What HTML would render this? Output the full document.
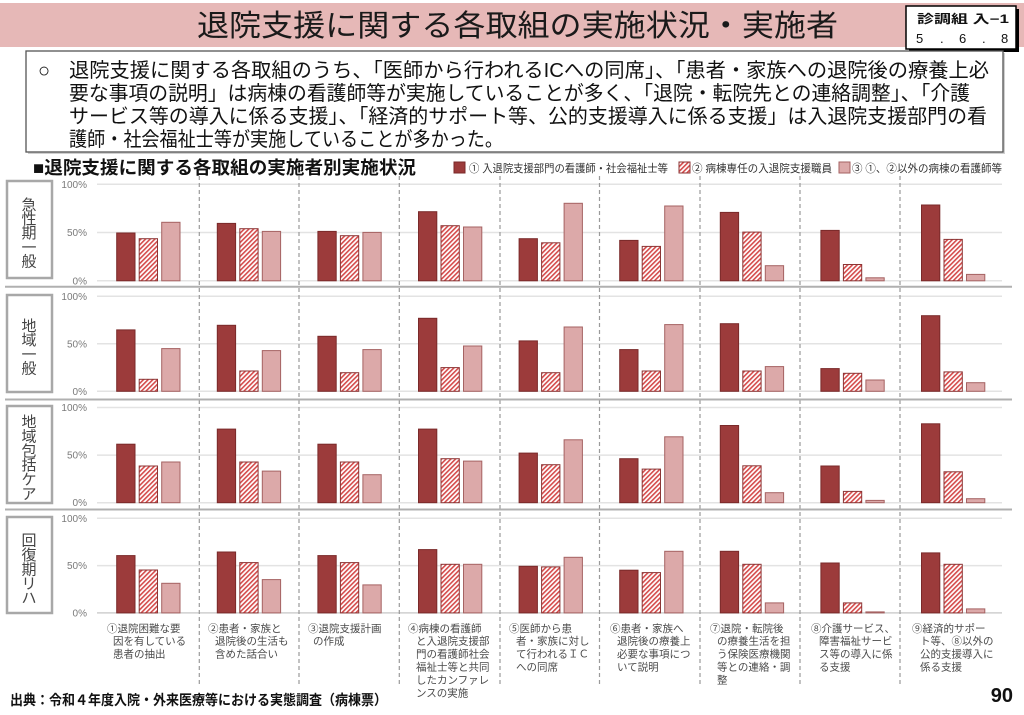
<!DOCTYPE html>
<html><head><meta charset="utf-8">
<style>
html,body{margin:0;padding:0;background:#fff;}
svg{display:block;}
text{font-family:"Liberation Sans","Noto Sans CJK JP",sans-serif;}
.a{fill:#9c3b3b;stroke:#7a2a2a;stroke-width:1;}
.b{fill:url(#h);stroke:#8c3535;stroke-width:1;}
.c{fill:#dca9a9;stroke:#a56262;stroke-width:1;}
.g{stroke:#e3e3e3;stroke-width:1.5;}
.yl{font-size:10px;fill:#7a7a7a;text-anchor:end;}
.cl{font-size:10.5px;fill:#4a4a4a;}
.rl{font-size:15px;fill:#444;text-anchor:middle;}
</style></head>
<body>
<svg width="1024" height="715" viewBox="0 0 1024 715" xmlns="http://www.w3.org/2000/svg">
<defs>
<pattern id="h" patternUnits="userSpaceOnUse" width="3.3" height="3.3" patternTransform="rotate(45)">
<rect width="3.3" height="3.3" fill="#fff"/><rect width="1.6" height="3.3" fill="#d44a4a"/>
</pattern>
</defs>
<rect x="0" y="0" width="1024" height="715" fill="#fff"/>
<!-- title band -->
<rect x="0" y="3" width="1024" height="44" fill="#e6b8b7"/>
<text x="197" y="36" font-size="30" fill="#1a1a1a" textLength="641" lengthAdjust="spacingAndGlyphs">退院支援に関する各取組の実施状況・実施者</text>
<!-- top right box -->
<rect x="909" y="9" width="110" height="43" fill="#000"/>
<rect x="906" y="6" width="110" height="43" fill="#fff" stroke="#000" stroke-width="1.5"/>
<text x="917" y="23" font-size="12" font-weight="bold" fill="#111" textLength="92" lengthAdjust="spacingAndGlyphs">診調組 入−1</text>
<text y="43" font-size="13" fill="#111"><tspan x="916">5</tspan><tspan x="940">.</tspan><tspan x="959">6</tspan><tspan x="982">.</tspan><tspan x="1001">8</tspan></text>
<!-- text box -->
<rect x="28" y="53" width="977" height="101" fill="#cfcfcf"/>
<rect x="26" y="51" width="977" height="101" fill="#fff" stroke="#555" stroke-width="1.3"/>
<text x="38" y="77" font-size="20" fill="#111">○</text>
<text x="69" y="77" font-size="20" fill="#111" textLength="920" lengthAdjust="spacingAndGlyphs">退院支援に関する各取組のうち、「医師から行われるICへの同席」、「患者・家族への退院後の療養上必</text>
<text x="69" y="100" font-size="20" fill="#111" textLength="901" lengthAdjust="spacingAndGlyphs">要な事項の説明」は病棟の看護師等が実施していることが多く、「退院・転院先との連絡調整」、「介護</text>
<text x="69" y="123" font-size="20" fill="#111" textLength="918" lengthAdjust="spacingAndGlyphs">サービス等の導入に係る支援」、「経済的サポート等、公的支援導入に係る支援」は入退院支援部門の看</text>
<text x="69" y="146" font-size="20" fill="#111" textLength="434" lengthAdjust="spacingAndGlyphs">護師・社会福祉士等が実施していることが多かった。</text>
<!-- subtitle & legend -->
<text x="33" y="174" font-size="18" font-weight="bold" fill="#111" textLength="383" lengthAdjust="spacingAndGlyphs">■退院支援に関する各取組の実施者別実施状況</text>
<rect x="454" y="162" width="11" height="11" class="a"/>
<text x="469" y="172" font-size="11" fill="#333" textLength="199" lengthAdjust="spacingAndGlyphs">① 入退院支援部門の看護師・社会福祉士等</text>
<rect x="679" y="162" width="11" height="11" class="b"/>
<text x="692" y="172" font-size="11" fill="#333" textLength="140" lengthAdjust="spacingAndGlyphs">② 病棟専任の入退院支援職員</text>
<rect x="839" y="162" width="11" height="11" class="c"/>
<text x="852" y="172" font-size="11" fill="#333" textLength="150" lengthAdjust="spacingAndGlyphs">③ ①、②以外の病棟の看護師等</text>

<!-- gridlines -->
<g class="g">
<line x1="97" x2="1002" y1="184.3" y2="184.3"/><line x1="97" x2="1002" y1="232.5" y2="232.5"/><line x1="97" x2="1002" y1="280.8" y2="280.8"/>
<line x1="97" x2="1002" y1="296.3" y2="296.3"/><line x1="97" x2="1002" y1="343.8" y2="343.8"/><line x1="97" x2="1002" y1="391.3" y2="391.3"/>
<line x1="97" x2="1002" y1="407.5" y2="407.5"/><line x1="97" x2="1002" y1="455.1" y2="455.1"/><line x1="97" x2="1002" y1="502.7" y2="502.7"/>
<line x1="97" x2="1002" y1="518.3" y2="518.3"/><line x1="97" x2="1002" y1="565.6" y2="565.6"/><line x1="97" x2="1002" y1="612.9" y2="612.9" style="stroke:#cfcfcf"/>
</g>
<!-- y labels -->
<text class="yl" x="87" y="187.8">100%</text><text class="yl" x="87" y="236">50%</text><text class="yl" x="87" y="284.3">0%</text>
<text class="yl" x="87" y="299.8">100%</text><text class="yl" x="87" y="347.3">50%</text><text class="yl" x="87" y="394.8">0%</text>
<text class="yl" x="87" y="411">100%</text><text class="yl" x="87" y="458.6">50%</text><text class="yl" x="87" y="506.2">0%</text>
<text class="yl" x="87" y="521.8">100%</text><text class="yl" x="87" y="569.1">50%</text><text class="yl" x="87" y="616.4">0%</text>

<!-- dashed separators -->
<g stroke="#9a9a9a" stroke-width="1.2" stroke-dasharray="4,3">
<line x1="199.3" x2="199.3" y1="176" y2="686"/><line x1="299" x2="299" y1="176" y2="686"/>
<line x1="399.3" x2="399.3" y1="176" y2="686"/><line x1="500" x2="500" y1="176" y2="686"/>
<line x1="599.5" x2="599.5" y1="176" y2="686"/><line x1="700" x2="700" y1="176" y2="686"/>
<line x1="800" x2="800" y1="176" y2="686"/><line x1="900" x2="900" y1="176" y2="686"/>
</g>
<!-- row separators -->
<g stroke="#b0b0b0" stroke-width="2">
<line x1="5" x2="1012" y1="286.7" y2="286.7"/>
<line x1="5" x2="1012" y1="399.5" y2="399.5"/>
<line x1="5" x2="1012" y1="509.5" y2="509.5"/>
</g>

<!-- row labels -->
<rect x="7" y="181" width="45" height="97" fill="#fff" stroke="#a8a8a8" stroke-width="2.5"/>
<rect x="7" y="295" width="45" height="97" fill="#fff" stroke="#a8a8a8" stroke-width="2.5"/>
<rect x="7" y="406" width="45" height="97" fill="#fff" stroke="#a8a8a8" stroke-width="2.5"/>
<rect x="7" y="517" width="45" height="96" fill="#fff" stroke="#a8a8a8" stroke-width="2.5"/>
<text class="rl"><tspan x="29" y="209.8">急</tspan><tspan x="29" dy="14.2">性</tspan><tspan x="29" dy="14.2">期</tspan><tspan x="29" dy="14.2">一</tspan><tspan x="29" dy="14.2">般</tspan></text>
<text class="rl"><tspan x="29" y="331">地</tspan><tspan x="29" dy="14.2">域</tspan><tspan x="29" dy="14.2">一</tspan><tspan x="29" dy="14.2">般</tspan></text>
<text class="rl"><tspan x="29" y="427">地</tspan><tspan x="29" dy="14.4">域</tspan><tspan x="29" dy="14.4">包</tspan><tspan x="29" dy="14.4">括</tspan><tspan x="29" dy="14.4">ケ</tspan><tspan x="29" dy="14.4">ア</tspan></text>
<text class="rl"><tspan x="29" y="545.5">回</tspan><tspan x="29" dy="14.4">復</tspan><tspan x="29" dy="14.4">期</tspan><tspan x="29" dy="14.4">リ</tspan><tspan x="29" dy="14.4">ハ</tspan></text>

<!-- Row 1 bars -->
<g transform="translate(0,280.8)">
<rect class="a" x="116.7" y="-47.8" width="18.3" height="47.8"/><rect class="b" x="139.2" y="-42.1" width="18.3" height="42.1"/><rect class="c" x="161.7" y="-58.5" width="18.3" height="58.5"/>
<rect class="a" x="217.3" y="-57.4" width="18.3" height="57.4"/><rect class="b" x="239.8" y="-52.1" width="18.3" height="52.1"/><rect class="c" x="262.3" y="-49.4" width="18.3" height="49.4"/>
<rect class="a" x="317.9" y="-49.4" width="18.3" height="49.4"/><rect class="b" x="340.4" y="-45.1" width="18.3" height="45.1"/><rect class="c" x="362.9" y="-48.4" width="18.3" height="48.4"/>
<rect class="a" x="418.5" y="-69.1" width="18.3" height="69.1"/><rect class="b" x="441.0" y="-55.1" width="18.3" height="55.1"/><rect class="c" x="463.5" y="-53.8" width="18.3" height="53.8"/>
<rect class="a" x="519.1" y="-42.1" width="18.3" height="42.1"/><rect class="b" x="541.6" y="-38.0" width="18.3" height="38.0"/><rect class="c" x="564.1" y="-77.5" width="18.3" height="77.5"/>
<rect class="a" x="619.7" y="-40.4" width="18.3" height="40.4"/><rect class="b" x="642.2" y="-34.4" width="18.3" height="34.4"/><rect class="c" x="664.7" y="-74.8" width="18.3" height="74.8"/>
<rect class="a" x="720.3" y="-68.4" width="18.3" height="68.4"/><rect class="b" x="742.8" y="-48.7" width="18.3" height="48.7"/><rect class="c" x="765.3" y="-15.1" width="18.3" height="15.1"/>
<rect class="a" x="820.9" y="-50.4" width="18.3" height="50.4"/><rect class="b" x="843.4" y="-16.3" width="18.3" height="16.3"/><rect class="c" x="865.9" y="-3.0" width="18.3" height="3.0"/>
<rect class="a" x="921.5" y="-75.8" width="18.3" height="75.8"/><rect class="b" x="944.0" y="-41.4" width="18.3" height="41.4"/><rect class="c" x="966.5" y="-6.4" width="18.3" height="6.4"/>
</g>
<!-- Row 2 bars -->
<g transform="translate(0,391.3)">
<rect class="a" x="116.7" y="-61.4" width="18.3" height="61.4"/><rect class="b" x="139.2" y="-12.0" width="18.3" height="12.0"/><rect class="c" x="161.7" y="-42.7" width="18.3" height="42.7"/>
<rect class="a" x="217.3" y="-66.0" width="18.3" height="66.0"/><rect class="b" x="239.8" y="-20.3" width="18.3" height="20.3"/><rect class="c" x="262.3" y="-40.7" width="18.3" height="40.7"/>
<rect class="a" x="317.9" y="-55.0" width="18.3" height="55.0"/><rect class="b" x="340.4" y="-18.6" width="18.3" height="18.6"/><rect class="c" x="362.9" y="-41.7" width="18.3" height="41.7"/>
<rect class="a" x="418.5" y="-73.0" width="18.3" height="73.0"/><rect class="b" x="441.0" y="-23.7" width="18.3" height="23.7"/><rect class="c" x="463.5" y="-45.3" width="18.3" height="45.3"/>
<rect class="a" x="519.1" y="-50.4" width="18.3" height="50.4"/><rect class="b" x="541.6" y="-18.6" width="18.3" height="18.6"/><rect class="c" x="564.1" y="-64.3" width="18.3" height="64.3"/>
<rect class="a" x="619.7" y="-41.7" width="18.3" height="41.7"/><rect class="b" x="642.2" y="-20.3" width="18.3" height="20.3"/><rect class="c" x="664.7" y="-66.7" width="18.3" height="66.7"/>
<rect class="a" x="720.3" y="-67.6" width="18.3" height="67.6"/><rect class="b" x="742.8" y="-20.3" width="18.3" height="20.3"/><rect class="c" x="765.3" y="-24.7" width="18.3" height="24.7"/>
<rect class="a" x="820.9" y="-22.7" width="18.3" height="22.7"/><rect class="b" x="843.4" y="-18.0" width="18.3" height="18.0"/><rect class="c" x="865.9" y="-11.3" width="18.3" height="11.3"/>
<rect class="a" x="921.5" y="-75.6" width="18.3" height="75.6"/><rect class="b" x="944.0" y="-19.4" width="18.3" height="19.4"/><rect class="c" x="966.5" y="-8.6" width="18.3" height="8.6"/>
</g>
<!-- Row 3 bars -->
<g transform="translate(0,502.7)">
<rect class="a" x="116.7" y="-58.5" width="18.3" height="58.5"/><rect class="b" x="139.2" y="-36.7" width="18.3" height="36.7"/><rect class="c" x="161.7" y="-40.7" width="18.3" height="40.7"/>
<rect class="a" x="217.3" y="-73.6" width="18.3" height="73.6"/><rect class="b" x="239.8" y="-40.7" width="18.3" height="40.7"/><rect class="c" x="262.3" y="-31.6" width="18.3" height="31.6"/>
<rect class="a" x="317.9" y="-58.5" width="18.3" height="58.5"/><rect class="b" x="340.4" y="-40.7" width="18.3" height="40.7"/><rect class="c" x="362.9" y="-28.0" width="18.3" height="28.0"/>
<rect class="a" x="418.5" y="-73.6" width="18.3" height="73.6"/><rect class="b" x="441.0" y="-44.0" width="18.3" height="44.0"/><rect class="c" x="463.5" y="-41.6" width="18.3" height="41.6"/>
<rect class="a" x="519.1" y="-49.6" width="18.3" height="49.6"/><rect class="b" x="541.6" y="-38.0" width="18.3" height="38.0"/><rect class="c" x="564.1" y="-62.9" width="18.3" height="62.9"/>
<rect class="a" x="619.7" y="-44.0" width="18.3" height="44.0"/><rect class="b" x="642.2" y="-33.6" width="18.3" height="33.6"/><rect class="c" x="664.7" y="-65.9" width="18.3" height="65.9"/>
<rect class="a" x="720.3" y="-77.2" width="18.3" height="77.2"/><rect class="b" x="742.8" y="-36.9" width="18.3" height="36.9"/><rect class="c" x="765.3" y="-10.0" width="18.3" height="10.0"/>
<rect class="a" x="820.9" y="-36.7" width="18.3" height="36.7"/><rect class="b" x="843.4" y="-11.3" width="18.3" height="11.3"/><rect class="c" x="865.9" y="-2.3" width="18.3" height="2.3"/>
<rect class="a" x="921.5" y="-78.9" width="18.3" height="78.9"/><rect class="b" x="944.0" y="-30.9" width="18.3" height="30.9"/><rect class="c" x="966.5" y="-4.0" width="18.3" height="4.0"/>
</g>
<!-- Row 4 bars -->
<g transform="translate(0,612.9)">
<rect class="a" x="116.7" y="-57.3" width="18.3" height="57.3"/><rect class="b" x="139.2" y="-42.9" width="18.3" height="42.9"/><rect class="c" x="161.7" y="-29.6" width="18.3" height="29.6"/>
<rect class="a" x="217.3" y="-60.9" width="18.3" height="60.9"/><rect class="b" x="239.8" y="-50.3" width="18.3" height="50.3"/><rect class="c" x="262.3" y="-33.3" width="18.3" height="33.3"/>
<rect class="a" x="317.9" y="-57.3" width="18.3" height="57.3"/><rect class="b" x="340.4" y="-50.3" width="18.3" height="50.3"/><rect class="c" x="362.9" y="-28.0" width="18.3" height="28.0"/>
<rect class="a" x="418.5" y="-63.3" width="18.3" height="63.3"/><rect class="b" x="441.0" y="-48.6" width="18.3" height="48.6"/><rect class="c" x="463.5" y="-48.6" width="18.3" height="48.6"/>
<rect class="a" x="519.1" y="-46.6" width="18.3" height="46.6"/><rect class="b" x="541.6" y="-46.0" width="18.3" height="46.0"/><rect class="c" x="564.1" y="-55.6" width="18.3" height="55.6"/>
<rect class="a" x="619.7" y="-42.7" width="18.3" height="42.7"/><rect class="b" x="642.2" y="-40.3" width="18.3" height="40.3"/><rect class="c" x="664.7" y="-61.6" width="18.3" height="61.6"/>
<rect class="a" x="720.3" y="-61.6" width="18.3" height="61.6"/><rect class="b" x="742.8" y="-48.6" width="18.3" height="48.6"/><rect class="c" x="765.3" y="-10.0" width="18.3" height="10.0"/>
<rect class="a" x="820.9" y="-49.9" width="18.3" height="49.9"/><rect class="b" x="843.4" y="-10.0" width="18.3" height="10.0"/><rect class="c" x="865.9" y="-1.0" width="18.3" height="1.0"/>
<rect class="a" x="921.5" y="-60.0" width="18.3" height="60.0"/><rect class="b" x="944.0" y="-48.6" width="18.3" height="48.6"/><rect class="c" x="966.5" y="-4.0" width="18.3" height="4.0"/>
</g>

<!-- category labels -->
<text class="cl"><tspan x="107" y="631.8">①退院困難な要</tspan><tspan x="113" y="644.7">因を有している</tspan><tspan x="113" y="657.6">患者の抽出</tspan></text>
<text class="cl"><tspan x="208" y="631.8">②患者・家族と</tspan><tspan x="215" y="644.7">退院後の生活も</tspan><tspan x="215" y="657.6">含めた話合い</tspan></text>
<text class="cl"><tspan x="308" y="631.8">③退院支援計画</tspan><tspan x="313" y="644.7">の作成</tspan></text>
<text class="cl"><tspan x="408" y="631.8">④病棟の看護師</tspan><tspan x="416" y="644.7">と入退院支援部</tspan><tspan x="416" y="657.6">門の看護師社会</tspan><tspan x="416" y="670.5">福祉士等と共同</tspan><tspan x="416" y="683.4">したカンファレ</tspan><tspan x="416" y="696.3">ンスの実施</tspan></text>
<text class="cl"><tspan x="509" y="631.8">⑤医師から患</tspan><tspan x="516" y="644.7">者・家族に対し</tspan><tspan x="516" y="657.6">て行われるＩＣ</tspan><tspan x="516" y="670.5">への同席</tspan></text>
<text class="cl"><tspan x="610" y="631.8">⑥患者・家族へ</tspan><tspan x="617" y="644.7">退院後の療養上</tspan><tspan x="617" y="657.6">必要な事項につ</tspan><tspan x="617" y="670.5">いて説明</tspan></text>
<text class="cl"><tspan x="710" y="631.8">⑦退院・転院後</tspan><tspan x="717" y="644.7">の療養生活を担</tspan><tspan x="717" y="657.6">う保険医療機関</tspan><tspan x="717" y="670.5">等との連絡・調</tspan><tspan x="717" y="683.4">整</tspan></text>
<text class="cl"><tspan x="811" y="631.8">⑧介護サービス、</tspan><tspan x="819" y="644.7">障害福祉サービ</tspan><tspan x="819" y="657.6">ス等の導入に係</tspan><tspan x="819" y="670.5">る支援</tspan></text>
<text class="cl"><tspan x="912" y="631.8">⑨経済的サポー</tspan><tspan x="920" y="644.7">ト等、⑧以外の</tspan><tspan x="920" y="657.6">公的支援導入に</tspan><tspan x="920" y="670.5">係る支援</tspan></text>

<!-- footer -->
<text x="10" y="705" font-size="14" font-weight="bold" fill="#111" textLength="377" lengthAdjust="spacingAndGlyphs">出典：令和４年度入院・外来医療等における実態調査（病棟票）</text>
<text x="1013" y="702" font-size="20" font-weight="bold" fill="#111" text-anchor="end">90</text>
</svg>
</body></html>
